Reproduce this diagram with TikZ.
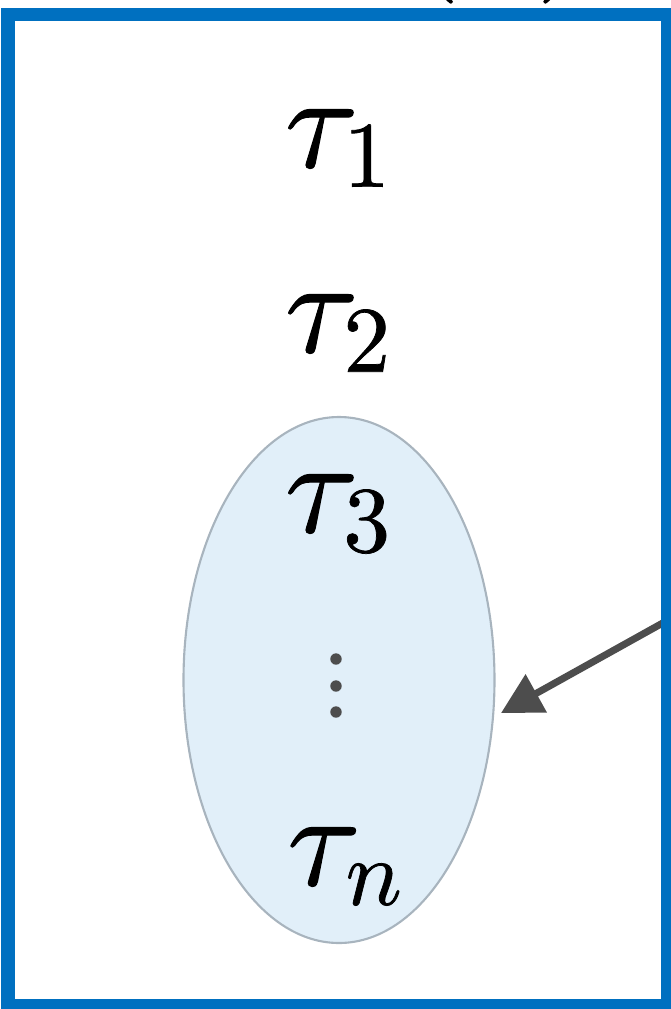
\documentclass[tikz,border=0pt]{standalone}
\usepackage{unicode-math}
\setmathfont{Latin Modern Math}[FakeBold=0.8]
\usetikzlibrary{arrows.meta,shapes.geometric}
\definecolor{frameblue}{RGB}{0,112,192}
\definecolor{setfill}{RGB}{225,239,249}
\definecolor{setdraw}{RGB}{168,180,190}
\definecolor{arrowgray}{RGB}{77,77,77}
\newcommand{\tsub}[1]{\tau_{\raisebox{0.1em}{$\scriptstyle #1$}}}
\tikzset{
  lbl/.style={inner sep=0pt, anchor=base, font=\fontsize{76pt}{80pt}\selectfont},
  framebox/.style={draw=frameblue, line width=7.4pt},
  setell/.style={ellipse, draw=setdraw, fill=setfill, line width=1.2pt, inner sep=0pt, minimum width=311*0.02cm, minimum height=526*0.02cm},
  pointer/.style={draw=arrowgray, line width=4pt, -{Triangle[length=23pt,width=24pt]}},
  dotstyle/.style={circle, fill=arrowgray, inner sep=0pt, minimum size=6.5pt}
}
\begin{document}
\begin{tikzpicture}[x=0.02cm,y=-0.02cm]
\useasboundingbox (0,0) rectangle (671,1009);
\clip (0,0) rectangle (671,1009);
\node[setell] (set) at (339,680) {};
\node[lbl] (t1) at (338,167) {$\tsub{1}$};
\node[lbl] (t2) at (338,352) {$\tsub{2}$};
\node[lbl] (t3) at (338,532) {$\tsub{3}$};
\node[dotstyle] (d1) at (336,659) {};
\node[dotstyle] (d2) at (336,686) {};
\node[dotstyle] (d3) at (336,712) {};
\node[lbl] (tn) at (345,885) {$\tsub{n}$};
\coordinate (src) at (740,580);
\coordinate (tip) at (501,713);
\draw[pointer] (src) -- (tip);
\node[lbl, anchor=base west] (title) at (312,-30) {$\mathcal{Q}(x)$};
\draw[framebox] (8,14.5) rectangle (667,1005) node[coordinate] (frame) {};
\end{tikzpicture}
\end{document}
